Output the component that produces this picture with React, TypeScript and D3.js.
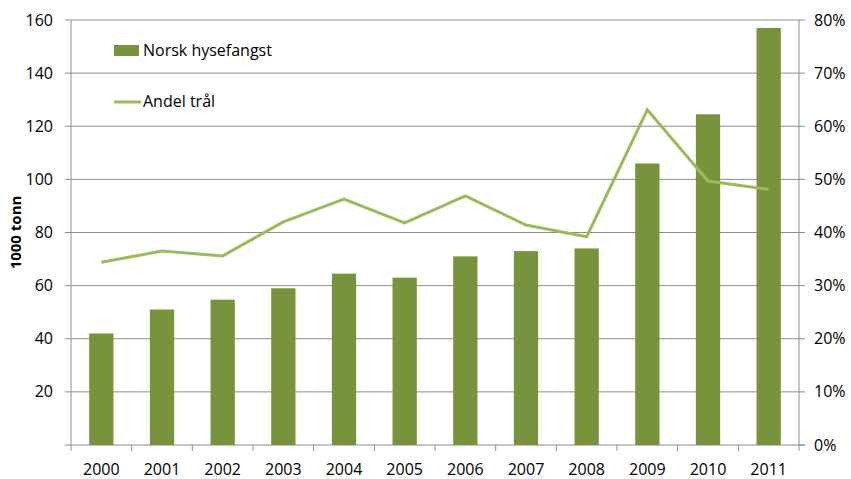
import React from 'react'
import * as d3 from 'd3'

const years = ['2000', '2001', '2002', '2003', '2004', '2005', '2006', '2007', '2008', '2009', '2010', '2011']
const catch1000t = [42, 51, 54.7, 59, 64.5, 63, 71, 73, 74, 106, 124.5, 157]
const trawlShare = [0.344, 0.365, 0.356, 0.42, 0.463, 0.418, 0.469, 0.414, 0.392, 0.631, 0.497, 0.481]
const leftTicks = [0, 20, 40, 60, 80, 100, 120, 140, 160]
const rightTicks = [0, 0.1, 0.2, 0.3, 0.4, 0.5, 0.6, 0.7, 0.8]

const W = 851
const H = 479
const M = { top: 20, right: 52, bottom: 34, left: 71 }
const FONT = "'Open Sans', sans-serif"
const BAR = '#77933c'
const LINE = '#9bbb59'
const GRID = '#8c8c8c'

export default function App() {
  const x = d3.scaleBand().domain(years).range([M.left, W - M.right]).paddingInner(0.6).paddingOuter(0.3)
  const xEdge = d3.scaleLinear().domain([0, years.length]).range([M.left, W - M.right])
  const yL = d3.scaleLinear().domain([0, 160]).range([H - M.bottom, M.top])
  const yR = d3.scaleLinear().domain([0, 0.8]).range([H - M.bottom, M.top])

  const line = d3.line<number>()
    .x((_, i) => (x(years[i]) || 0) + x.bandwidth() / 2)
    .y((d) => yR(d))

  const base = H - M.bottom

  return (
    <svg width={W} height={H} style={{ position: 'absolute', left: 0, top: 0 }} fontFamily={FONT}>
      {/* grid */}
      {leftTicks.slice(1).map((t) => (
        <line key={t} x1={M.left - 6} x2={W - M.right} y1={yL(t)} y2={yL(t)} stroke={GRID} strokeWidth={1} />
      ))}
      {/* axes */}
      <line x1={M.left} x2={M.left} y1={M.top} y2={base} stroke={GRID} />
      <line x1={W - M.right} x2={W - M.right} y1={M.top} y2={base} stroke={GRID} />
      <line x1={M.left - 6} x2={W - M.right + 6} y1={base} y2={base} stroke={GRID} />
      {d3.range(years.length + 1).map((i) => (
        <line key={i} x1={xEdge(i)} x2={xEdge(i)} y1={base} y2={base + 6} stroke={GRID} />
      ))}
      {rightTicks.map((t) => (
        <line key={t} x1={W - M.right} x2={W - M.right + 6} y1={yR(t)} y2={yR(t)} stroke={GRID} />
      ))}

      {/* bars */}
      {catch1000t.map((v, i) => (
        <rect key={i} x={x(years[i])} y={yL(v)} width={x.bandwidth()} height={base - yL(v)} fill={BAR} />
      ))}

      {/* line */}
      <path d={line(trawlShare) || ''} fill="none" stroke={LINE} strokeWidth={3} />

      {/* labels */}
      {leftTicks.map((t) => (
        <text key={t} x={53} y={yL(t)} dy="0.35em" textAnchor="end" fontSize={16} fill="#000">{t === 0 ? '' : t}</text>
      ))}
      {rightTicks.map((t) => (
        <text key={t} x={W - M.right + 15} y={yR(t)} dy="0.35em" fontSize={16} fill="#000">{d3.format('.0%')(t)}</text>
      ))}
      {years.map((yr) => (
        <text key={yr} x={(x(yr) || 0) + x.bandwidth() / 2} y={475} textAnchor="middle" fontSize={16} fill="#000">{yr}</text>
      ))}
      <text transform={`translate(21,${(M.top + base) / 2}) rotate(-90)`} textAnchor="middle" fontSize={15} fontWeight="bold" fill="#000">1000 tonn</text>

      {/* legend */}
      <rect x={114} y={45} width={25} height={11} fill={BAR} />
      <text x={143} y={56} fontSize={16} fill="#000">Norsk hysefangst</text>
      <line x1={114} x2={141} y1={102} y2={102} stroke={LINE} strokeWidth={3} />
      <text x={143} y={107} fontSize={16} fill="#000">Andel trål</text>
    </svg>
  )
}
